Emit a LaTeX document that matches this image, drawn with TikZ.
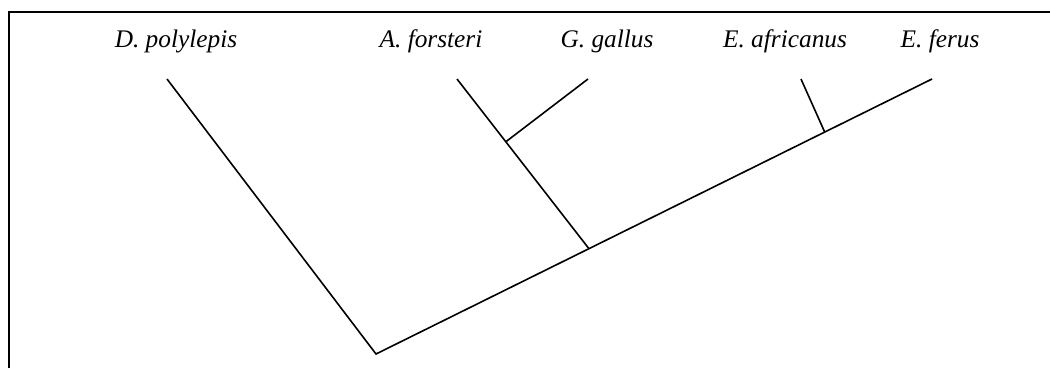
\documentclass[tikz,border=0pt]{standalone}
\usepackage{fontspec}
\setmainfont{Liberation Serif}
\usetikzlibrary{calc}

\begin{document}
\begin{tikzpicture}[x=0.75pt,y=-0.75pt,
    branch/.style={line width=1.2pt},
    taxon/.style={anchor=base,font=\fontsize{19}{23}\selectfont\itshape}]
  \useasboundingbox (0,0) rectangle (1050,368);
  % Frame (right and bottom edges fall outside)
  \draw[line width=1.5pt] (8.5,368) -- (8.5,11.5) -- (1050,11.5);
  % Taxa
  \node[taxon] (dpol) at (176,47) {D. polylepis};
  \node[taxon] (afor) at (431,47) {A. forsteri};
  \node[taxon] (ggal) at (607,47) {G. gallus};
  \node[taxon] (eafr) at (785,47) {E. africanus};
  \node[taxon] (efer) at (940,47) {E. ferus};
  % Tips
  \coordinate (tDpol) at (167,79);
  \coordinate (tAfor) at (457,79);
  \coordinate (tGgal) at (588,79);
  \coordinate (tEafr) at (801,79);
  \coordinate (tEfer) at (932,79);
  % Junctions
  \coordinate (root) at (376,354);
  \coordinate (jA) at ($(root)!0.383!(tEfer)$);
  \coordinate (jE) at ($(root)!0.807!(tEfer)$);
  \coordinate (jG) at ($(tAfor)!0.37!(jA)$);
  % Branches
  \draw[branch] (tDpol) -- (root) -- (tEfer);
  \draw[branch] (tAfor) -- (jA);
  \draw[branch] (tGgal) -- (jG);
  \draw[branch] (tEafr) -- (jE);
\end{tikzpicture}
\end{document}
